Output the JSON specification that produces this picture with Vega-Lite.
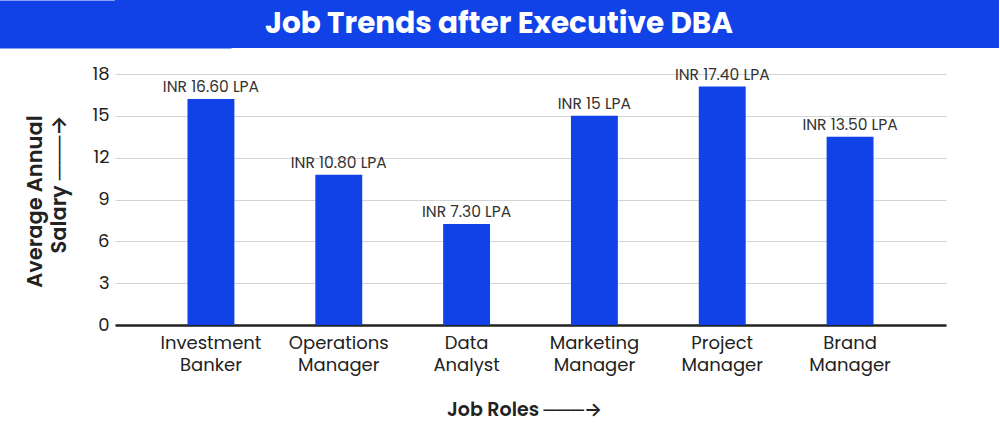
{
  "$schema": "https://vega.github.io/schema/vega-lite/v6.json",
  "padding": 0,
  "background": "white",
  "spacing": 17,
  "config": {
    "font": "Poppins, Inter, sans-serif",
    "view": {"stroke": null}
  },
  "vconcat": [
    {
      "width": 884,
      "height": 48,
      "view": {"fill": "#1142E8", "stroke": null},
      "data": {"values": [{"t": "Job Trends after Executive DBA", "v": 1}]},
      "mark": {"type": "text", "fontSize": 29.5, "fontWeight": "bold", "color": "white", "baseline": "middle", "align": "center", "dx": -58},
      "encoding": {
        "text": {"field": "t"},
        "y": {
          "field": "v",
          "type": "quantitative",
          "scale": {"domain": [0, 2], "nice": false, "zero": false},
          "axis": {
            "title": null,
            "labels": false,
            "ticks": false,
            "grid": false,
            "domain": true,
            "domainColor": "#1142E8",
            "domainWidth": 232,
            "domainCap": "butt"
          }
        }
      }
    },
    {
      "width": 831,
      "height": 251,
      "data": {
        "values": [
          {"role": "Investment Banker", "salary": 16.2, "label": "INR 16.60 LPA"},
          {"role": "Operations Manager", "salary": 10.77, "label": "INR 10.80 LPA"},
          {"role": "Data Analyst", "salary": 7.25, "label": "INR 7.30 LPA"},
          {"role": "Marketing Manager", "salary": 15.0, "label": "INR 15 LPA"},
          {"role": "Project Manager", "salary": 17.1, "label": "INR 17.40 LPA"},
          {"role": "Brand Manager", "salary": 13.5, "label": "INR 13.50 LPA"}
        ]
      },
      "encoding": {
        "x": {
          "field": "role",
          "type": "nominal",
          "sort": null,
          "scale": {"paddingInner": 0.633, "paddingOuter": 0.567},
          "axis": {
            "title": "Job Roles   ───→",
            "titleFontSize": 19,
            "titleFontWeight": 600,
            "titleColor": "#222",
            "titlePadding": 26,
            "titleX": 409,
            "labelAngle": 0,
            "labelExpr": "split(datum.label, ' ')",
            "labelFontSize": 18,
            "labelLineHeight": 22.5,
            "labelColor": "#222",
            "labelPadding": 9,
            "ticks": false,
            "domainColor": "#222",
            "domainWidth": 2.5
          }
        },
        "y": {
          "field": "salary",
          "type": "quantitative",
          "scale": {"domain": [0, 18], "nice": false},
          "axis": {
            "values": [0, 3, 6, 9, 12, 15, 18],
            "title": [" ", "Average Annual", "Salary ───→"],
            "titleFontSize": 21,
            "titleFontWeight": 600,
            "titleColor": "#222",
            "titleLineHeight": 24,
            "titleAlign": "right",
            "titleY": 41,
            "titlePadding": 22,
            "labelFontSize": 18,
            "labelColor": "#222",
            "labelPadding": 6,
            "ticks": false,
            "domain": false,
            "gridColor": "#d3d3d3",
            "gridWidth": 1
          }
        }
      },
      "layer": [
        {"mark": {"type": "bar", "color": "#1142E8"}},
        {
          "mark": {"type": "text", "baseline": "bottom", "dy": -4, "fontSize": 15.5, "color": "#333"},
          "encoding": {"text": {"field": "label"}}
        }
      ]
    }
  ]
}
